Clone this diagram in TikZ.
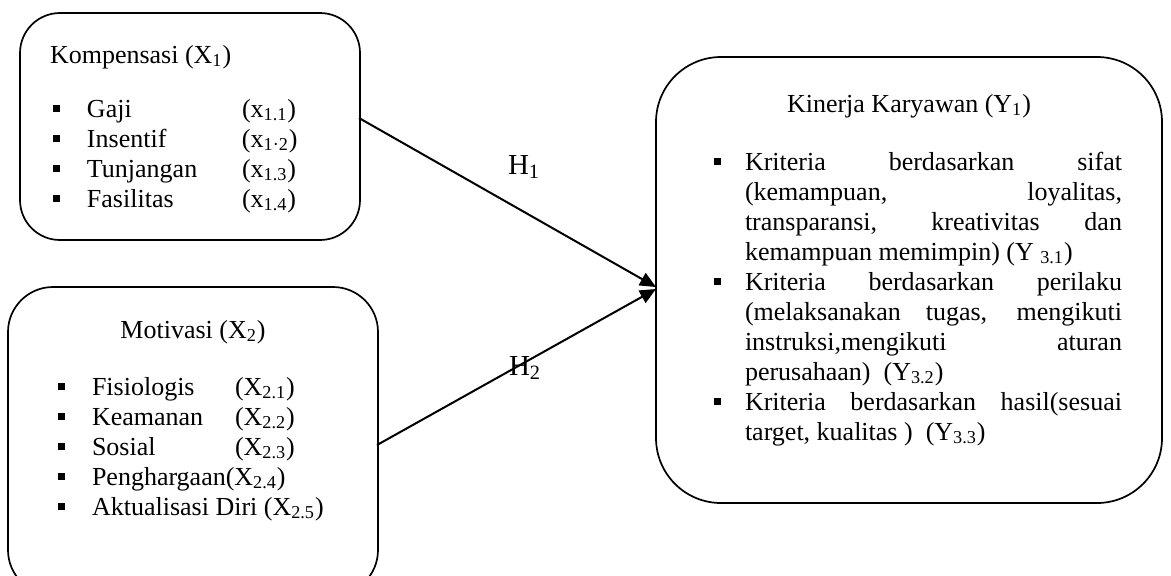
\documentclass[tikz,border=0pt]{standalone}
\usepackage{fontspec}
\setmainfont{Liberation Serif}
\usetikzlibrary{arrows.meta}
\newcommand{\sqbul}{\raisebox{2.5pt}{\rule{3.5pt}{3.5pt}}}
\tikzset{
  box/.style={draw, line width=0.85pt, inner sep=0pt, outer sep=0pt, anchor=north west},
  txt/.style={inner sep=0pt, outer sep=0pt, font=\fontsize{13pt}{15pt}\selectfont},
  hlab/.style={inner sep=0pt, outer sep=0pt, anchor=base west, font=\fontsize{14.5pt}{17pt}\selectfont},
  conn/.style={line width=1pt, -{Triangle[length=8pt,width=7pt]}}
}
\begin{document}
\begin{tikzpicture}[x=0.5pt,y=-0.5pt]
\useasboundingbox (0,0) rectangle (1171,575);
% boxes
\node[box, rounded corners=20pt, minimum width=170pt, minimum height=113.5pt] (b1) at (20,13) {};
\node[box, rounded corners=22.5pt, minimum width=185pt, minimum height=154pt] (b2) at (8,287) {};
\node[box, rounded corners=32.5pt, minimum width=253pt, minimum height=223pt] (b3) at (656,57) {};
% box 1 text
\node[txt, anchor=base west] (t1) at (50,63) {Kompensasi (X\textsubscript{1})};
\node[txt, anchor=base west] (l1) at (53,117) {\begin{tabular}[t]{@{}p{17pt}@{}p{77.5pt}@{}l@{}}
\sqbul & Gaji & (x\textsubscript{1.1})\\
\sqbul & Insentif & (x\textsubscript{1·2})\\
\sqbul & Tunjangan & (x\textsubscript{1.3})\\
\sqbul & Fasilitas & (x\textsubscript{1.4})
\end{tabular}};
% box 2 text
\node[txt, anchor=base] (t2) at (193,338) {Motivasi (X\textsubscript{2})};
\node[txt, anchor=base west] (l2) at (58.5,395) {\begin{tabular}[t]{@{}p{16.75pt}@{}p{71.5pt}@{}l@{}}
\sqbul & Fisiologis & (X\textsubscript{2.1})\\
\sqbul & Keamanan & (X\textsubscript{2.2})\\
\sqbul & Sosial & (X\textsubscript{2.3})\\
\sqbul & \multicolumn{2}{@{}l@{}}{Penghargaan(X\textsubscript{2.4})}\\
\sqbul & \multicolumn{2}{@{}l@{}}{Aktualisasi Diri (X\textsubscript{2.5})}
\end{tabular}};
% box 3 text
\node[txt, anchor=base] (t3) at (909,112) {Kinerja Karyawan (Y\textsubscript{1})};
\node[txt, anchor=base west, text width=204.25pt, align=justify] (l3) at (713.5,170) {%
\tolerance=10000\hbadness=10000
\hangindent=15.75pt\hangafter=1\noindent\makebox[15.75pt][l]{\sqbul}Kriteria berdasarkan sifat\linebreak (kemampuan, loyalitas,\linebreak transparansi, kreativitas dan\linebreak kemampuan memimpin) (Y \textsubscript{3.1})\par
\hangindent=15.75pt\hangafter=1\noindent\makebox[15.75pt][l]{\sqbul}Kriteria berdasarkan perilaku\linebreak (melaksanakan tugas, mengikuti\linebreak instruksi,mengikuti aturan\linebreak perusahaan)~~(Y\textsubscript{3.2})\par
\hangindent=15.75pt\hangafter=1\noindent\makebox[15.75pt][l]{\sqbul}Kriteria berdasarkan hasil(sesuai\linebreak target, kualitas )~~(Y\textsubscript{3.3})\par};
% connectors
\coordinate (s1) at (359,118);
\coordinate (s2) at (377,445);
\coordinate (e1) at (656,287);
\coordinate (e2) at (656,289);
\draw[conn] (s1) -- (e1);
\draw[conn] (s2) -- (e2);
\node[hlab] (h1) at (508,174) {H\textsubscript{1}};
\node[hlab] (h2) at (509,375) {H\textsubscript{2}};
\end{tikzpicture}
\end{document}
